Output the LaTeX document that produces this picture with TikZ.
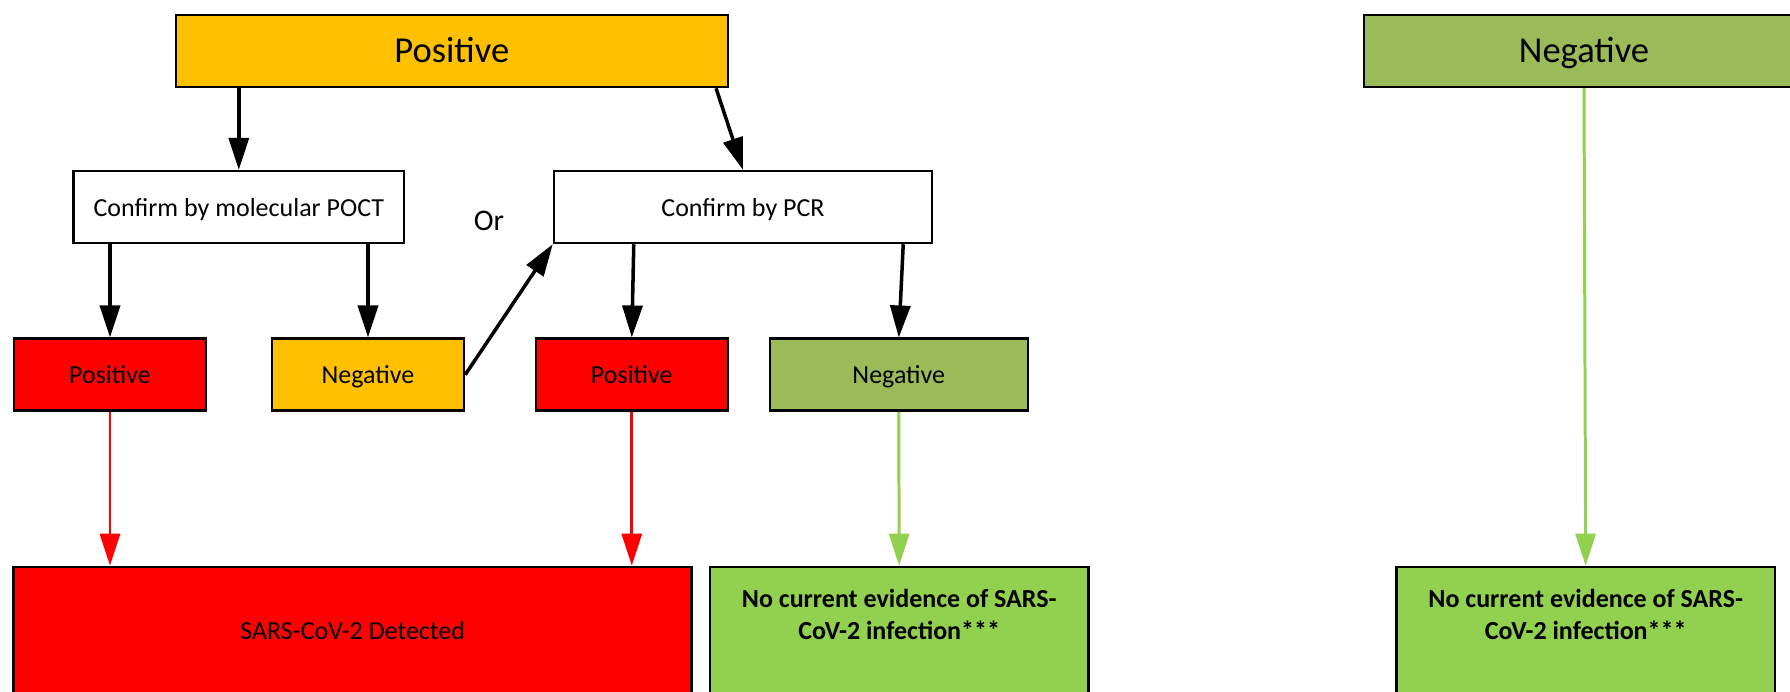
\documentclass[tikz,border=0pt]{standalone}
\usepackage{fontspec}
\setmainfont{Carlito}
\usepackage{tikz}
\usetikzlibrary{arrows.meta,calc}

\definecolor{amberc}{HTML}{FFC000}
\definecolor{oliveg}{HTML}{9BBB59}
\definecolor{limeg}{HTML}{92D050}

\begin{document}
\begin{tikzpicture}[x=0.1mm,y=-0.1mm,
    frame/.style={draw,line width=0.7pt,minimum height=7.2mm,inner sep=0pt,font=\fontsize{7.4}{9}\selectfont},
    box/.style={frame,text height=1.5ex,text depth=0.42ex},
    bigbox/.style={frame,text height=1.8ex,text depth=0.42ex,font=\fontsize{10.4}{12}\selectfont},
    outbox/.style={frame,fill=limeg,minimum width=37.85mm,minimum height=13.3mm,align=center,text depth=3.8mm,
        font=\bfseries\fontsize{7.4}{9}\selectfont},
    blk/.style={-{Triangle[length=3.2mm,width=2mm]},line width=1pt},
    redarr/.style={blk,red,line width=0.85pt},
    grnarr/.style={blk,limeg,line width=0.85pt}]
    \useasboundingbox (0,0) rectangle (1790,691);
    \clip (0,0) rectangle (1790,691);

    % First test result
    \node[bigbox,fill=amberc,minimum width=55.2mm] (pos) at (451.8,51) {Positive};
    \node[bigbox,fill=oliveg,minimum width=44mm] (neg) at (1584,51) {Negative};

    % Confirmation
    \node[box,fill=white,minimum width=33.05mm] (mol) at (238.8,207) {Confirm by molecular POCT};
    \node[box,fill=white,minimum width=37.8mm] (pcr) at (743,207) {Confirm by PCR};
    \node[font=\fontsize{8.5}{10}\selectfont] (or) at (489,221) {Or};

    % Confirmation results
    \node[box,fill=red,minimum width=19.2mm] (molpos) at (110,374.7) {Positive};
    \node[box,fill=amberc,minimum width=19.2mm] (molneg) at (368,374.7) {Negative};
    \node[box,fill=red,minimum width=19.2mm] (pcrpos) at (631.8,374.7) {Positive};
    \node[box,fill=oliveg,minimum width=25.8mm] (pcrneg) at (898.8,374.7) {Negative};

    % Outcomes
    \node[box,fill=red,minimum width=67.8mm,minimum height=13.3mm,text height=1.2ex] (det) at (352.7,633.4) {SARS-CoV-2 Detected};
    \node[outbox] (noev1) at (899.2,633.4) {No current evidence of SARS-\\CoV-2 infection***};
    \node[outbox] (noev2) at (1585.7,633.4) {No current evidence of SARS-\\CoV-2 infection***};

    % Arrows
    \draw[blk] (pos.south -| mol.north) -- (mol.north);
    \draw[blk] ($(pos.south east)+(-13,0)$) -- (pcr.north);
    \draw[blk] (mol.south -| molpos.north) -- (molpos.north);
    \draw[blk] (mol.south -| molneg.north) -- (molneg.north);
    \draw[blk] (molneg.east) -- (pcr.south west);
    \draw[blk] ($(pcr.south west)+(81,0)$) -- (pcrpos.north);
    \draw[blk] ($(pcr.south east)+(-30,0)$) -- (pcrneg.north);
    \draw[redarr] (molpos.south) -- (molpos.south |- det.north);
    \draw[redarr] (pcrpos.south) -- (pcrpos.south |- det.north);
    \draw[grnarr] (pcrneg.south) -- (noev1.north);
    \draw[grnarr] (neg.south) -- (noev2.north);
\end{tikzpicture}
\end{document}
